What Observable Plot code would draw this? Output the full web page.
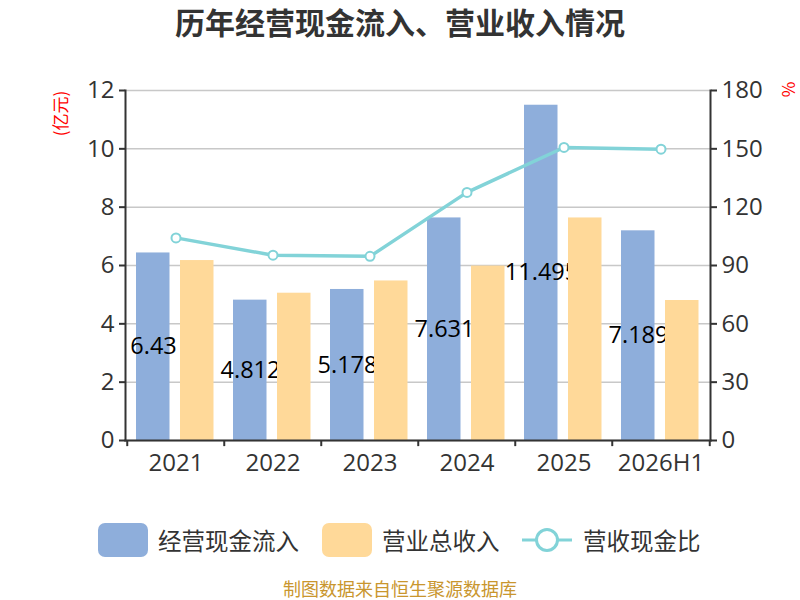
<!DOCTYPE html>
<html><head><meta charset="utf-8">
<script src="https://cdn.jsdelivr.net/npm/d3@7"></script>
<script src="https://cdn.jsdelivr.net/npm/@observablehq/plot@0.6"></script>
<style>
body{margin:0;background:#fff;font-family:"Open Sans","Noto Sans CJK SC",sans-serif;}
#wrap{position:relative;width:800px;height:600px;overflow:hidden;background:#fff}
#title{position:absolute;top:-2px;left:0;width:800px;text-align:center;font-size:30px;font-weight:bold;color:#333;line-height:46px;font-family:"Noto Sans CJK SC",sans-serif}
#chart{position:absolute;top:44px;left:0}
.unit{position:absolute;color:#f00;font-size:17px;font-family:"Noto Sans CJK SC",sans-serif;transform:rotate(-90deg);transform-origin:center;white-space:nowrap}
.lg{position:absolute;top:522px;height:36px;display:flex;align-items:center;font-size:23.5px;color:#333;font-family:"Noto Sans CJK SC",sans-serif}
.sw{width:50px;height:34px;border-radius:7px;margin-right:10px}
#caption{position:absolute;top:578px;left:0;width:800px;text-align:center;font-size:18px;line-height:20px;color:#c9962e;font-family:"Noto Sans CJK SC",sans-serif}
</style></head>
<body><div id="wrap">
<div id="title">历年经营现金流入、营业收入情况</div>
<div id="chart"></div>
<div class="unit" style="left:37px;top:101px;">(亿元)</div>
<div class="unit" style="left:780px;top:77px;">%</div>
<div class="lg" style="left:98px;"><div class="sw" style="background:#8eaedb"></div>经营现金流入</div>
<div class="lg" style="left:322px;"><div class="sw" style="background:#ffd999"></div>营业总收入</div>
<div class="lg" style="left:522px;"><svg width="52" height="36" style="margin-right:9px"><line x1="0" y1="18" x2="50" y2="18" stroke="#82d3d8" stroke-width="3"/><circle cx="25" cy="18" r="10.5" fill="#fff" stroke="#82d3d8" stroke-width="3"/></svg>营收现金比</div>
<div id="caption">制图数据来自恒生聚源数据库</div>
</div>
<script>
const years = ["2021","2022","2023","2024","2025","2026H1"];
const cashInflow = [6.43,4.812,5.178,7.631,11.495,7.189];
const revenue = [6.17,5.05,5.47,5.98,7.63,4.80];
const ratio = [104.2,95.3,94.7,127.6,150.7,149.8];
const leftTicks = [0,2,4,6,8,10,12];
const rightTicks = [0,30,60,90,120,150,180];

const k = rightTicks[rightTicks.length-1] / leftTicks[leftTicks.length-1];
const rows = years.map((y,i)=>({year:y, cash:cashInflow[i], rev:revenue[i], ratio:ratio[i], r:ratio[i]/k}));
const bw = 585/years.length;

const chart = Plot.plot({
  width:800, height:436,
  marginLeft:125, marginRight:90, marginTop:46, marginBottom:40,
  x:{domain:years, padding:0, label:null},
  y:{domain:[0,12], label:null},
  style:{fontSize:"24px", color:"#333", fontFamily:"'Open Sans','Noto Sans CJK SC',sans-serif", background:"transparent"},
  marks:[
    Plot.gridY(leftTicks, {stroke:"#c8c8c8", strokeOpacity:1, strokeWidth:1.5}),
    Plot.barY(rows, {x:"year", y:"cash", fill:"#8eaedb", insetLeft:9, insetRight:bw-43}),
    Plot.text(rows, {x:"year", y:d=>d.cash/2, text:d=>String(d.cash), dx:-22.5, fill:"#000", fontSize:23.5}),
    Plot.barY(rows, {x:"year", y:"rev", fill:"#ffd999", insetLeft:53, insetRight:bw-87}),
    Plot.line(rows, {x:"year", y:"r", stroke:"#82d3d8", strokeWidth:3.5}),
    Plot.dot(rows, {x:"year", y:"r", r:4.5, fill:"#fff", stroke:"#82d3d8", strokeWidth:2}),
    Plot.axisY(leftTicks, {anchor:"left", tickSize:6, tickPadding:5, fontSize:24, stroke:"#333", strokeWidth:2}),
    Plot.axisY(leftTicks, {anchor:"right", tickSize:6, tickPadding:5, fontSize:24, stroke:"#333", strokeWidth:2,
      tickFormat:d=>rightTicks[leftTicks.indexOf(d)]}),
    Plot.frame({anchor:"left", stroke:"#333", strokeWidth:2}),
    Plot.frame({anchor:"right", stroke:"#333", strokeWidth:2}),
    Plot.frame({anchor:"bottom", stroke:"#333", strokeWidth:2}),
    Plot.ruleX(years, {x:d=>d, dx:-bw/2, y1:0, y2:-0.21, stroke:"#333", strokeWidth:2}),
    Plot.ruleX([years[years.length-1]], {x:d=>d, dx:bw/2, y1:0, y2:-0.21, stroke:"#333", strokeWidth:2}),
    Plot.axisX({tickSize:0, tickPadding:13, fontSize:24})
  ]
});
document.getElementById("chart").appendChild(chart);
</script>
</body></html>
